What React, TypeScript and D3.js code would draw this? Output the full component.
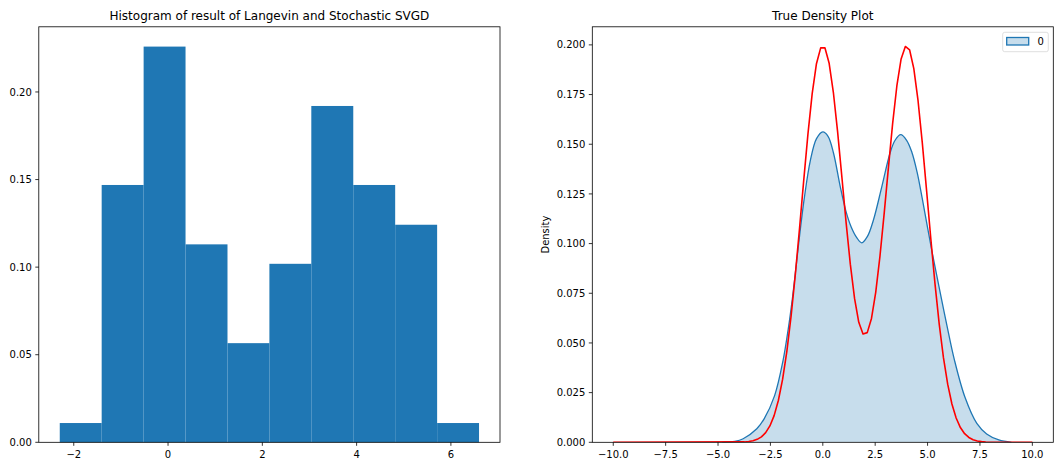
import React from "react";
import * as d3 from "d3";

// ---------- Data ----------
const histEdges = [-2.297, -1.408, -0.518, 0.371, 1.261, 2.15, 3.039, 3.929, 4.818, 5.708, 6.597];
const histDensity = [0.011, 0.1469, 0.2259, 0.113, 0.0566, 0.1019, 0.192, 0.1469, 0.1242, 0.011];
const histXTicks = [-2, 0, 2, 4, 6];
const histYTicks = [0, 0.05, 0.1, 0.15, 0.2];

const kdeX = [-4.8, -4.2, -3.8, -3.15, -2.8, -2.3, -1.9, -1.65, -1.45, -1.29, -1.08, -0.875, -0.6, -0.3, 0.0, 0.25, 0.51, 0.83, 1.1, 1.35, 1.62, 1.86, 2.13, 2.42, 2.82, 3.21, 3.45, 3.72, 4.0, 4.25, 4.5, 4.75, 5.0, 5.23, 5.6, 5.92, 6.28, 6.79, 7.35, 7.82, 8.4, 9.0];
const kdeY = [0.0, 0.0005, 0.0018, 0.0068, 0.0118, 0.0235, 0.041, 0.057, 0.0725, 0.087, 0.1065, 0.1235, 0.1415, 0.1528, 0.1562, 0.154, 0.1456, 0.1288, 0.1165, 0.1085, 0.103, 0.1004, 0.1036, 0.112, 0.1288, 0.1456, 0.152, 0.1548, 0.152, 0.146, 0.136, 0.1225, 0.108, 0.095, 0.0755, 0.059, 0.0415, 0.0225, 0.0095, 0.0042, 0.0012, 0.0];

const trueX = [-10.0, -3.7374, -3.5354, -3.3333, -3.1313, -2.9293, -2.7273, -2.5253, -2.3232, -2.1212, -1.9192, -1.7172, -1.5152, -1.3131, -1.1111, -0.9091, -0.7071, -0.5051, -0.303, -0.101, 0.101, 0.303, 0.5051, 0.7071, 0.9091, 1.1111, 1.3131, 1.5152, 1.7172, 1.9192, 2.1212, 2.3232, 2.5253, 2.7273, 2.9293, 3.1313, 3.3333, 3.5354, 3.7374, 3.9394, 4.1414, 4.3434, 4.5455, 4.7475, 4.9495, 5.1515, 5.3535, 5.5556, 5.7576, 5.9596, 6.1616, 6.3636, 6.5657, 6.7677, 6.9697, 7.1717, 7.3737, 7.5758, 7.7778, 10.0];
const trueY = [0.0, 0.00019, 0.00039, 0.00077, 0.00148, 0.00273, 0.00484, 0.00823, 0.01343, 0.02104, 0.03163, 0.04566, 0.0633, 0.08423, 0.1076, 0.13196, 0.15535, 0.17558, 0.19052, 0.1985, 0.19856, 0.19074, 0.17602, 0.15623, 0.13364, 0.11067, 0.08963, 0.0724, 0.06039, 0.05452, 0.05519, 0.06233, 0.07547, 0.09359, 0.11517, 0.13826, 0.16049, 0.17945, 0.1929, 0.19919, 0.19753, 0.18805, 0.1719, 0.15085, 0.1271, 0.10279, 0.07982, 0.05948, 0.04257, 0.02924, 0.01929, 0.01221, 0.00742, 0.00433, 0.00243, 0.0013, 0.00067, 0.00033, 0.00016, 0.0];

const kdeXTicks = [-10, -7.5, -5, -2.5, 0, 2.5, 5, 7.5, 10];
const kdeYTicks = [0, 0.025, 0.05, 0.075, 0.1, 0.125, 0.15, 0.175, 0.2];

const leftTitle = "Histogram of result of Langevin and Stochastic SVGD";
const rightTitle = "True Density Plot";
const rightYLabel = "Density";
const legendLabel = "0";

// ---------- Layout ----------
const W = 1057;
const H = 463;
const top = 26.8;
const bottom = 442.3;
const ax1 = { x0: 38.8, x1: 500 };
const ax2 = { x0: 592.3, x1: 1053.3 };
const FONT = "'DejaVu Sans', sans-serif";
const BLUE = "#1f77b4";

const fmtMinus = (s: string) => s.replace("-", "\u2212");

export default function App() {
  const x1 = d3.scaleLinear().domain([-2.7417, 7.0417]).range([ax1.x0, ax1.x1]);
  const y1 = d3.scaleLinear().domain([0, 0.2372]).range([bottom, top]);
  const x2 = d3.scaleLinear().domain([-11, 11]).range([ax2.x0, ax2.x1]);
  const y2 = d3.scaleLinear().domain([0, 0.2091]).range([bottom, top]);

  const kdePts = kdeX.map((x, i) => [x, kdeY[i]] as [number, number]);
  const truePts = trueX.map((x, i) => [x, trueY[i]] as [number, number]);

  const curve = d3.curveCatmullRom.alpha(0.5);
  const area = d3
    .area<[number, number]>()
    .x((d) => x2(d[0]))
    .y0(y2(0))
    .y1((d) => Math.min(y2(0), y2(d[1])))
    .curve(curve);
  const kdeLine = d3
    .line<[number, number]>()
    .x((d) => x2(d[0]))
    .y((d) => y2(d[1]))
    .curve(curve);
  const trueLine = d3
    .line<[number, number]>()
    .x((d) => x2(d[0]))
    .y((d) => y2(d[1]));

  const tickLen = 3.5;

  return (
    <svg
      width={W}
      height={H}
      style={{ position: "absolute", left: 0, top: 0, background: "#fff" }}
      fontFamily={FONT}
    >
      <defs>
        <clipPath id="clip2">
          <rect x={ax2.x0} y={top} width={ax2.x1 - ax2.x0} height={bottom - top} />
        </clipPath>
      </defs>
      <rect x={0} y={0} width={W} height={H} fill="#fff" />
      {/* ---------- Left: histogram ---------- */}
      <g>
        {histDensity.map((d, i) => (
          <rect
            key={i}
            x={x1(histEdges[i])}
            y={y1(d)}
            width={x1(histEdges[i + 1]) - x1(histEdges[i])}
            height={y1(0) - y1(d)}
            fill={BLUE}
          />
        ))}
        <rect x={ax1.x0} y={top} width={ax1.x1 - ax1.x0} height={bottom - top} fill="none" stroke="#000" strokeWidth={0.8} />
        {histXTicks.map((t) => (
          <g key={t}>
            <line x1={x1(t)} x2={x1(t)} y1={bottom} y2={bottom + tickLen} stroke="#000" strokeWidth={0.8} />
            <text x={x1(t)} y={bottom + 16} fontSize={10} textAnchor="middle" fill="#000">
              {fmtMinus(String(t))}
            </text>
          </g>
        ))}
        {histYTicks.map((t) => (
          <g key={t}>
            <line x1={ax1.x0 - tickLen} x2={ax1.x0} y1={y1(t)} y2={y1(t)} stroke="#000" strokeWidth={0.8} />
            <text x={ax1.x0 - 7} y={y1(t) + 3.6} fontSize={10} textAnchor="end" fill="#000">
              {t.toFixed(2)}
            </text>
          </g>
        ))}
        <text x={(ax1.x0 + ax1.x1) / 2} y={20} fontSize={12} textAnchor="middle" fill="#000">
          {leftTitle}
        </text>
      </g>

      {/* ---------- Right: density ---------- */}
      <g>
        <g clipPath="url(#clip2)">
          <path d={area(kdePts) || ""} fill={BLUE} fillOpacity={0.25} stroke="none" />
          <path d={kdeLine(kdePts) || ""} fill="none" stroke={BLUE} strokeWidth={1.3} />
          <path d={trueLine(truePts) || ""} fill="none" stroke="#ff0000" strokeWidth={1.6} strokeLinejoin="round" />
        </g>
        <rect x={ax2.x0} y={top} width={ax2.x1 - ax2.x0} height={bottom - top} fill="none" stroke="#000" strokeWidth={0.8} />
        {kdeXTicks.map((t) => (
          <g key={t}>
            <line x1={x2(t)} x2={x2(t)} y1={bottom} y2={bottom + tickLen} stroke="#000" strokeWidth={0.8} />
            <text x={x2(t)} y={bottom + 16} fontSize={10} textAnchor="middle" fill="#000">
              {fmtMinus(t.toFixed(1))}
            </text>
          </g>
        ))}
        {kdeYTicks.map((t) => (
          <g key={t}>
            <line x1={ax2.x0 - tickLen} x2={ax2.x0} y1={y2(t)} y2={y2(t)} stroke="#000" strokeWidth={0.8} />
            <text x={ax2.x0 - 7} y={y2(t) + 3.6} fontSize={10} textAnchor="end" fill="#000">
              {t.toFixed(3)}
            </text>
          </g>
        ))}
        <text
          transform={`translate(${548.5},${(top + bottom) / 2}) rotate(-90)`}
          fontSize={10}
          textAnchor="middle"
          fill="#000"
        >
          {rightYLabel}
        </text>
        <text x={(ax2.x0 + ax2.x1) / 2} y={20} fontSize={12} textAnchor="middle" fill="#000">
          {rightTitle}
        </text>
        {/* legend */}
        <rect x={1002.7} y={32.3} width={45.6} height={19.4} rx={2} fill="#fff" fillOpacity={0.8} stroke="#d6d6d6" strokeWidth={0.8} />
        <rect x={1006.7} y={37.5} width={22} height={7.5} fill={BLUE} fillOpacity={0.25} stroke={BLUE} strokeWidth={1.3} />
        <text x={1037.5} y={45.2} fontSize={10} fill="#000">
          {legendLabel}
        </text>
      </g>
    </svg>
  );
}
